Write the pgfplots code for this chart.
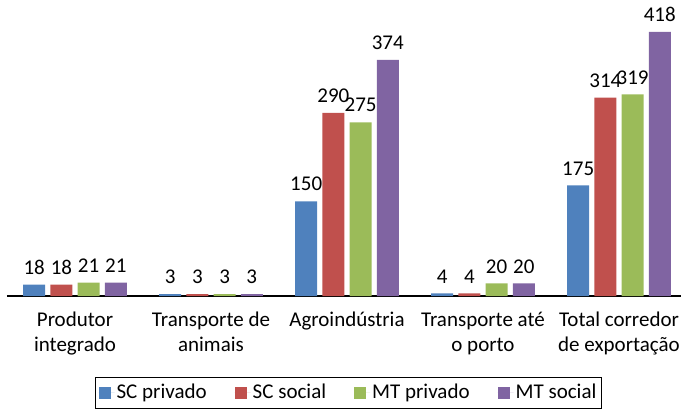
\documentclass[border=0pt]{standalone}
\usepackage{fontspec}
\setmainfont{Carlito}
\usepackage{pgfplots}
\pgfplotsset{compat=1.18}
\definecolor{cBlue}{HTML}{4F81BD}
\definecolor{cRed}{HTML}{C0504D}
\definecolor{cGreen}{HTML}{9BBB59}
\definecolor{cPurple}{HTML}{8064A2}
\begin{document}
\fontsize{21}{25}\selectfont
\begin{tikzpicture}
\begin{axis}[
  name=ax,
  scale only axis,
  width=674pt, height=296pt,
  ybar, bar width=0.162,
  ymin=0, ymax=468.6,
  xmin=-0.5, xmax=4.456,
  axis y line=none,
  axis x line*=bottom,
  x axis line style={line width=1.8pt, -},
  xtick={0,1,2,3,4},
  xticklabels={{Produtor\\integrado},{Transporte de\\animais},{Agroindústria},{Transporte até\\o porto},{Total corredor\\de exportação}},
  xticklabel style={align=center, font=\fontsize{21}{25}\selectfont, yshift=-9pt},
  major tick length=0pt,
  clip=false,
  /pgf/number format/assume math mode=true,
  nodes near coords,
  every node near coord/.append style={font=\fontsize{21}{25}\selectfont, text=black, yshift=3pt},
  legend columns=4,
  legend style={at={(0.5067,-0.2736)}, anchor=north, draw=black, line width=0.8pt,
    font=\fontsize{21}{25}\selectfont, inner xsep=3pt, inner ysep=4.5pt,
    /tikz/every even column/.append style={column sep=26pt}},
  legend image code/.code={\path (0pt,0pt) -- (16pt,0pt); \fill[#1] (0pt,-6pt) rectangle (12pt,6pt);},
]
\addplot[fill=cBlue, draw=none, bar shift=-0.3] coordinates {(0,18) (1,3) (2,150) (3,4) (4,175)};
\addplot[fill=cRed, draw=none, bar shift=-0.1] coordinates {(0,18) (1,3) (2,290) (3,4) (4,314)};
\addplot[fill=cGreen, draw=none, bar shift=0.1] coordinates {(0,21) (1,3) (2,275) (3,20) (4,319)};
\addplot[fill=cPurple, draw=none, bar shift=0.3] coordinates {(0,21) (1,3) (2,374) (3,20) (4,418)};
\legend{SC privado, SC social, MT privado, MT social}
\end{axis}
\pgfresetboundingbox
\useasboundingbox (ax.south west) ++(-7pt,-117pt) rectangle (ax.north east);
\end{tikzpicture}
\end{document}
